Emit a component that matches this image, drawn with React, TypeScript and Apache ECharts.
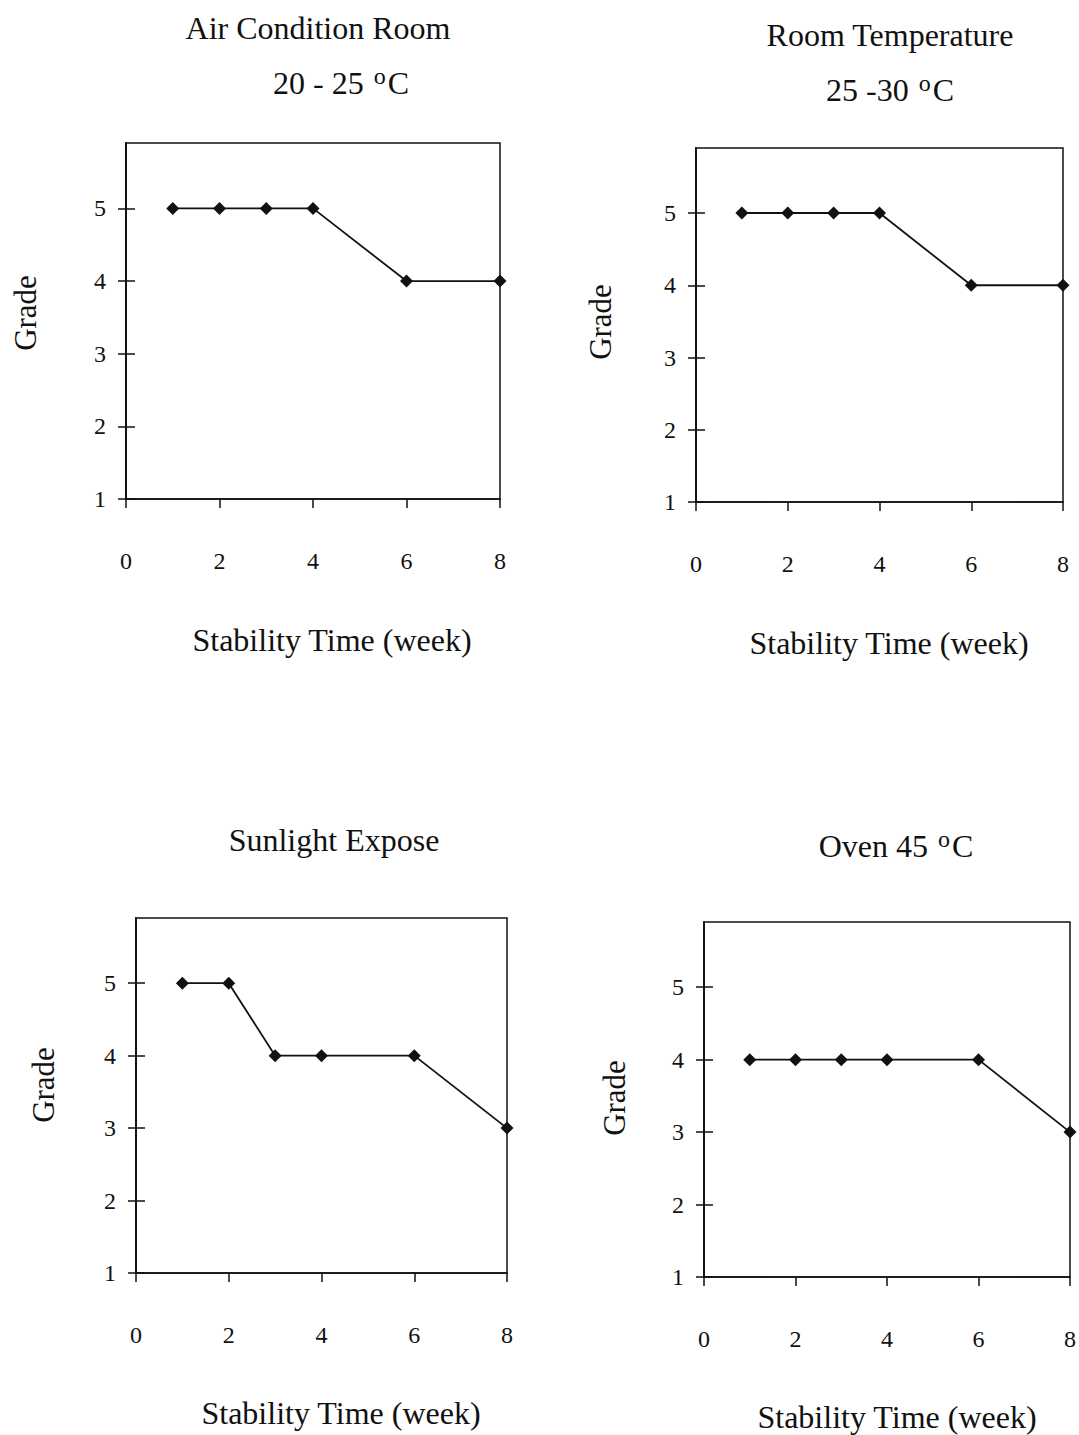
import React, { useEffect, useRef } from "react";
import * as echarts from "echarts";

const weeks = [1, 2, 3, 4, 6, 8];
const gradeAirCondition = [5, 5, 5, 5, 4, 4];
const gradeRoomTemp = [5, 5, 5, 5, 4, 4];
const gradeSunlight = [5, 5, 4, 4, 4, 3];
const gradeOven = [4, 4, 4, 4, 4, 3];
const yTickValues = [1, 2, 3, 4, 5];

const titleLine1 = ["Air Condition Room", "Room Temperature", "Sunlight Expose", "Oven 45 "];
const xAxisTitle = "Stability Time (week)";
const yAxisTitle = "Grade";

const FONT = "Liberation Serif";
const INK = "#111";

const panels = [
  { grid: { left: 126, top: 143, width: 374, height: 356 }, data: gradeAirCondition },
  { grid: { left: 696, top: 148, width: 367, height: 354 }, data: gradeRoomTemp },
  { grid: { left: 136, top: 918, width: 371, height: 355 }, data: gradeSunlight },
  { grid: { left: 704, top: 922, width: 366, height: 355 }, data: gradeOven },
];

const textItems = [
  { x: 318, y: 28, text: titleLine1[0] },
  { x: 341, y: 83, text: "{n|20 - 25 }{s|o}{n|C}" },
  { x: 890, y: 35, text: titleLine1[1] },
  { x: 890, y: 90, text: "{n|25 -30 }{s|o}{n|C}" },
  { x: 334, y: 840, text: titleLine1[2] },
  { x: 896, y: 846, text: "{n|" + titleLine1[3] + "}{s|o}{n|C}" },
  { x: 332, y: 640, text: xAxisTitle },
  { x: 889, y: 643, text: xAxisTitle },
  { x: 341, y: 1413, text: xAxisTitle },
  { x: 897, y: 1417, text: xAxisTitle },
];

const gradeLabels = [
  { x: 25, y: 313 },
  { x: 600, y: 322 },
  { x: 43, y: 1085 },
  { x: 614, y: 1098 },
];

export default function App() {
  const ref = useRef<HTMLDivElement>(null);
  useEffect(() => {
    document.body.style.margin = "0";
    const chart = echarts.init(ref.current!, null, { renderer: "svg" });
    const grids: any[] = [];
    const xAxes: any[] = [];
    const yAxes: any[] = [];
    const series: any[] = [];
    panels.forEach((p, i) => {
      grids.push({
        ...p.grid,
        show: true,
        borderColor: INK,
        borderWidth: 1.5,
        backgroundColor: "transparent",
      });
      xAxes.push({
        type: "value",
        gridIndex: i,
        position: "bottom",
        min: 0,
        max: 8,
        interval: 2,
        splitLine: { show: false },
        axisLine: { show: true, onZero: false, lineStyle: { color: INK, width: 1.5 } },
        axisTick: { show: true, inside: false, length: 9, lineStyle: { color: INK, width: 1.5 } },
        axisLabel: {
          margin: 50,
          color: INK,
          fontFamily: FONT,
          fontSize: 24,
          showMinLabel: true,
          showMaxLabel: true,
        },
      });
      const yBase = {
        type: "value",
        gridIndex: i,
        position: "left",
        offset: 0,
        min: 1,
        max: 5.9,
        interval: 1,
        splitLine: { show: false },
      };
      yAxes.push({
        ...yBase,
        axisLine: { show: true, onZero: false, lineStyle: { color: INK, width: 1.5 } },
        axisTick: {
          show: true,
          inside: false,
          length: 8,
          customValues: yTickValues,
          lineStyle: { color: INK, width: 1.5 },
        },
        axisLabel: {
          margin: 20,
          color: INK,
          fontFamily: FONT,
          fontSize: 24,
          customValues: yTickValues,
        },
      });
      yAxes.push({
        ...yBase,
        axisLine: { show: true, onZero: false, lineStyle: { color: INK, width: 1.5 } },
        axisTick: {
          show: true,
          inside: true,
          length: 9,
          customValues: yTickValues,
          lineStyle: { color: INK, width: 1.5 },
        },
        axisLabel: { show: false },
      });
      series.push({
        type: "line",
        xAxisIndex: i,
        yAxisIndex: i * 2,
        data: weeks.map((w, k) => [w, p.data[k]]),
        symbol: "diamond",
        symbolSize: 13,
        showSymbol: true,
        lineStyle: { color: INK, width: 1.8 },
        itemStyle: { color: INK },
        clip: false,
      });
    });

    const graphic: any[] = [];
    textItems.forEach((t) => {
      graphic.push({
        type: "text",
        x: t.x,
        y: t.y,
        style: {
          text: t.text,
          fill: INK,
          fontFamily: FONT,
          fontSize: 32,
          align: "center",
          verticalAlign: "middle",
          rich: {
            n: { fontFamily: FONT, fontSize: 32, fill: INK, lineHeight: 38 },
            s: { fontFamily: FONT, fontSize: 24, fill: INK, verticalAlign: "top", lineHeight: 22, padding: [0, 2, 0, 2] },
          },
        },
      });
    });
    gradeLabels.forEach((g) => {
      graphic.push({
        type: "text",
        x: g.x,
        y: g.y,
        rotation: Math.PI / 2,
        style: {
          text: yAxisTitle,
          fill: INK,
          fontFamily: FONT,
          fontSize: 31,
          align: "center",
          verticalAlign: "middle",
        },
      });
    });

    chart.setOption({
      animation: false,
      backgroundColor: "#fff",
      grid: grids,
      xAxis: xAxes,
      yAxis: yAxes,
      series,
      graphic,
    });
    return () => chart.dispose();
  }, []);
  return <div ref={ref} style={{ width: 1079, height: 1435 }} />;
}
